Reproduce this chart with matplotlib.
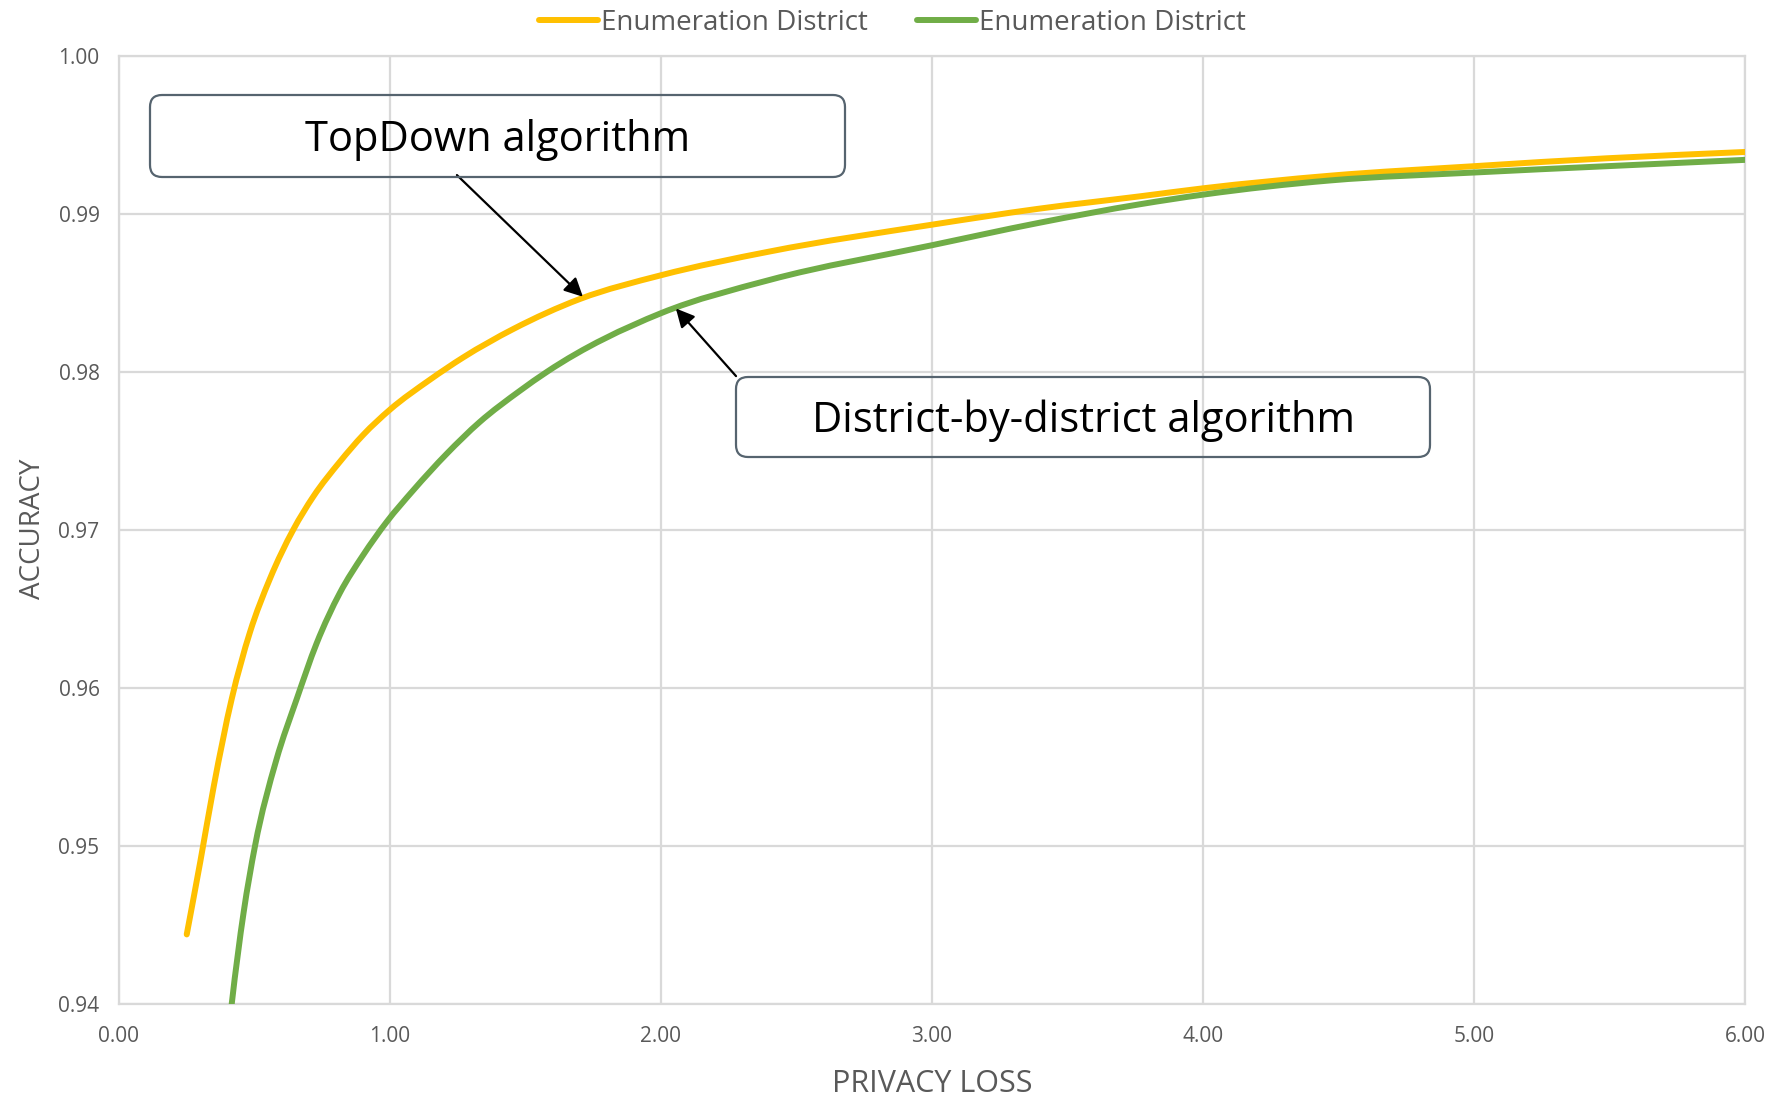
import matplotlib
matplotlib.use('agg')
from matplotlib import pyplot as plt
from matplotlib.patches import FancyBboxPatch, PathPatch
from matplotlib.path import Path
from matplotlib.lines import Line2D

# privacy loss (x) vs accuracy (y)
topdown_x = [0.25, 0.30, 0.35, 0.416, 0.483, 0.557, 0.643, 0.717, 0.815, 0.901,
             1.00, 1.148, 1.27, 1.455, 1.701, 2.00, 2.40, 3.00, 3.39, 3.77,
             4.00, 4.47, 5.00, 5.49, 6.00]
topdown_y = [0.9444, 0.9490, 0.9538, 0.9593, 0.9635, 0.9669, 0.9700, 0.9721, 0.9743, 0.9760,
             0.9776, 0.9795, 0.9809, 0.9827, 0.9846, 0.9861, 0.9876, 0.9893, 0.9903, 0.9911,
             0.9916, 0.9924, 0.9930, 0.9935, 0.9939]

district_x = [0.40, 0.416, 0.46, 0.502, 0.58, 0.656, 0.729, 0.815, 0.901, 0.988,
              1.086, 1.209, 1.33, 1.48, 1.58, 2.00, 2.40, 3.00, 3.39, 3.77,
              4.00, 4.47, 5.00, 5.49, 6.00]
district_y = [0.9375, 0.9400, 0.9458, 0.9500, 0.9554, 0.9593, 0.9628, 0.9660, 0.9684, 0.9705,
              0.9725, 0.9748, 0.9768, 0.9788, 0.9800, 0.9837, 0.9858, 0.9880, 0.9894, 0.9906,
              0.9912, 0.9921, 0.9926, 0.9930, 0.9934]

series_labels = ['Enumeration District', 'Enumeration District']
x_ticks = [0, 1, 2, 3, 4, 5, 6]
y_ticks = [0.94, 0.95, 0.96, 0.97, 0.98, 0.99, 1.00]

plt.rcParams['font.family'] = ['Open Sans', 'DejaVu Sans']
grey = '#595959'
grid_grey = '#d9d9d9'
yellow = '#FFC000'
green = '#70AD47'


def smooth_path(xs, ys):
    # excel style "smoothed line": cubic bezier segments through the data points
    n = len(xs)
    h = [xs[i + 1] - xs[i] for i in range(n - 1)]
    d = [(ys[i + 1] - ys[i]) / h[i] for i in range(n - 1)]
    s = [d[0]]
    for i in range(1, n - 1):
        s.append((d[i - 1] * h[i] + d[i] * h[i - 1]) / (h[i - 1] + h[i]))
    s.append(d[-1])
    verts = [(xs[0], ys[0])]
    codes = [Path.MOVETO]
    for i in range(n - 1):
        verts += [(xs[i] + h[i] / 3, ys[i] + s[i] * h[i] / 3),
                  (xs[i + 1] - h[i] / 3, ys[i + 1] - s[i + 1] * h[i] / 3),
                  (xs[i + 1], ys[i + 1])]
        codes += [Path.CURVE4] * 3
    return Path(verts, codes)


fig = plt.figure(figsize=(17.76, 11), dpi=100)
ax = fig.add_axes([0.067, 0.0873, 0.9155, 0.8622])

ax.add_patch(PathPatch(smooth_path(topdown_x, topdown_y), facecolor='none', edgecolor=yellow,
                       linewidth=4.3, capstyle='round', joinstyle='round', zorder=3))
ax.add_patch(PathPatch(smooth_path(district_x, district_y), facecolor='none', edgecolor=green,
                       linewidth=4.3, capstyle='round', joinstyle='round', zorder=3))

ax.set_xlim(0, 6)
ax.set_ylim(0.94, 1.00)
ax.set_xticks(x_ticks)
ax.set_xticklabels(['%.2f' % v for v in x_ticks])
ax.set_yticks(y_ticks)
ax.set_yticklabels(['%.2f' % v for v in y_ticks])
ax.tick_params(length=0, labelsize=15, colors=grey)
ax.tick_params(axis='x', pad=16)
ax.tick_params(axis='y', pad=14)
ax.grid(True, color=grid_grey, linewidth=1.6)
ax.set_axisbelow(True)
for sp in ax.spines.values():
    sp.set_color(grid_grey)
    sp.set_linewidth(1.6)

ax.set_xlabel('PRIVACY LOSS', fontsize=22, color=grey, labelpad=16)
ax.set_ylabel('ACCURACY', fontsize=20, color=grey)
ax.yaxis.set_label_coords(-0.044, 0.501)

# callout boxes (in inches so the rounded corners stay round)
box_edge = '#56646f'
b1 = FancyBboxPatch((1.50, 9.23), 6.95, 0.82, boxstyle='round,pad=0,rounding_size=0.12',
                    transform=fig.dpi_scale_trans, facecolor='none', edgecolor=box_edge, linewidth=1.6)
b2 = FancyBboxPatch((7.36, 6.43), 6.94, 0.80, boxstyle='round,pad=0,rounding_size=0.12',
                    transform=fig.dpi_scale_trans, facecolor='none', edgecolor=box_edge, linewidth=1.6)
fig.patches.extend([b1, b2])
fig.text(4.975, 9.60, 'TopDown algorithm', transform=fig.dpi_scale_trans,
         fontsize=30, color='black', ha='center', va='center')
fig.text(10.83, 6.79, 'District-by-district algorithm', transform=fig.dpi_scale_trans,
         fontsize=30, color='black', ha='center', va='center')

arrow = dict(arrowstyle='-|>', color='black', lw=1.6, mutation_scale=28, shrinkA=0, shrinkB=0)
ax.annotate('', xy=(1.712, 0.98474), xytext=(1.247, 0.99244), arrowprops=arrow)
ax.annotate('', xy=(2.055, 0.98400), xytext=(2.277, 0.97972), arrowprops=arrow)

handles = [Line2D([], [], color=yellow, linewidth=4.3, solid_capstyle='round'),
           Line2D([], [], color=green, linewidth=4.3, solid_capstyle='round')]
leg = fig.legend(handles, series_labels, loc='center', bbox_to_anchor=(0.5025, 0.979), ncol=2,
                 frameon=False, fontsize=20, handlelength=2.1, handletextpad=0.1, columnspacing=1.8)
for t in leg.get_texts():
    t.set_color(grey)

plt.savefig('out.png', dpi=100)
